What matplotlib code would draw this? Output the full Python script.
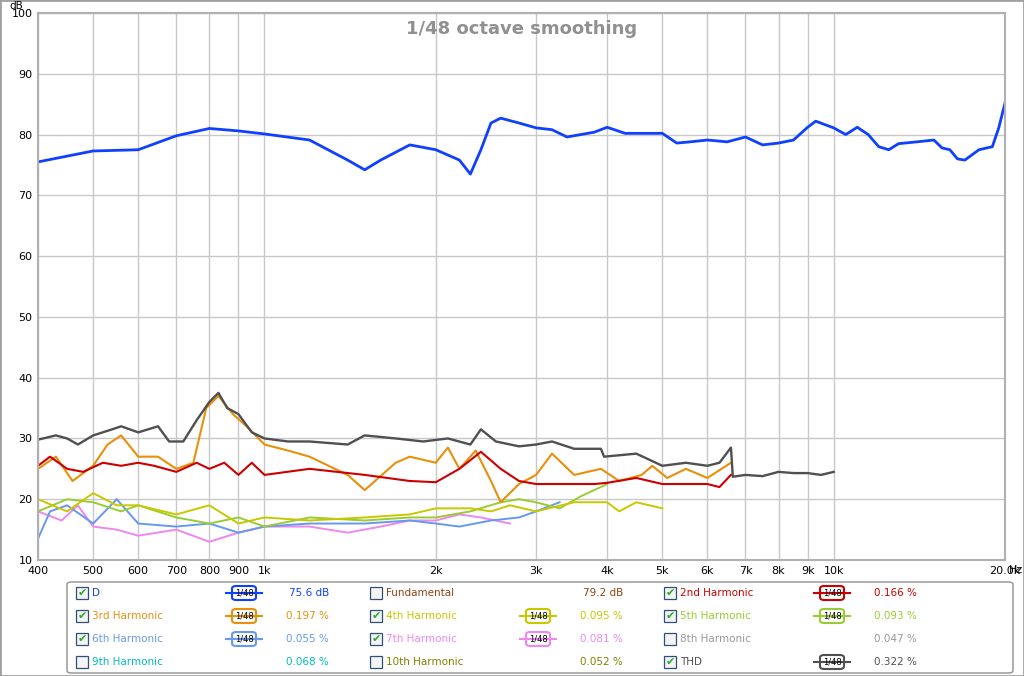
import matplotlib.pyplot as plt
from matplotlib.patches import FancyBboxPatch, Rectangle

# ==========================================
# Data
# ==========================================
d_f = [400, 500, 600, 700, 800, 900, 1000, 1200, 1400, 1500, 1600, 1800, 2000, 2200, 2300, 2400,
       2500, 2600, 2800, 3000, 3200, 3400, 3800, 4000, 4300, 4600, 5000, 5300, 5600, 6000, 6500,
       7000, 7500, 8000, 8500, 9000, 9300, 10000, 10500, 11000, 11500, 12000, 12500, 13000, 14000,
       15000, 15500, 16000, 16500, 17000, 18000, 19000, 19500, 20000]
d_db = [75.5, 77.3, 77.5, 79.8, 81.0, 80.6, 80.1, 79.1, 75.8, 74.2, 75.8, 78.3, 77.5, 75.8, 73.5, 77.5,
        81.9, 82.7, 81.9, 81.1, 80.8, 79.6, 80.4, 81.2, 80.2, 80.2, 80.2, 78.6, 78.8, 79.1, 78.8,
        79.6, 78.3, 78.6, 79.1, 81.2, 82.2, 81.1, 80.0, 81.2, 80.0, 78.0, 77.5, 78.5, 78.8,
        79.1, 77.8, 77.5, 76.0, 75.8, 77.5, 78.0, 81.1, 85.2]

thd_f = [400, 430, 450, 470, 500, 540, 560, 600, 650, 680, 720, 760, 800, 830, 860, 900, 950, 1000,
         1100, 1200, 1400, 1500, 1700, 1900, 2100, 2300, 2400, 2550, 2800, 3000, 3200, 3500, 3900,
         3950, 4500, 5000, 5500, 6000, 6300, 6600, 6650, 7000, 7500, 8000, 8500, 9000, 9500, 10000]
thd_db = [29.8, 30.5, 30.0, 29.0, 30.5, 31.5, 32.0, 31.0, 32.0, 29.5, 29.5, 33.0, 36.0, 37.5, 35.0,
          34.0, 31.0, 30.0, 29.5, 29.5, 29.0, 30.5, 30.0, 29.5, 30.0, 29.0, 31.5, 29.5, 28.7, 29.0,
          29.5, 28.3, 28.3, 27.0, 27.5, 25.5, 26.0, 25.5, 26.0, 28.5, 23.7, 24.0, 23.8, 24.5, 24.3,
          24.3, 24.0, 24.5]

h2_f = [400, 420, 450, 480, 520, 560, 600, 640, 700, 760, 800, 850, 900, 950, 1000, 1200, 1500,
        1800, 2000, 2200, 2400, 2600, 2800, 3000, 3400, 3800, 4000, 4500, 5000, 6000, 6300, 6600]
h2_db = [25.5, 27.0, 25.0, 24.5, 26.0, 25.5, 26.0, 25.5, 24.5, 26.0, 25.0, 26.0, 24.0, 26.0, 24.0,
         25.0, 24.0, 23.0, 22.8, 25.0, 27.8, 25.0, 23.0, 22.5, 22.5, 22.5, 22.7, 23.5, 22.5, 22.5,
         22.0, 24.0]

h3_f = [400, 430, 460, 500, 530, 560, 600, 650, 700, 750, 790, 830, 880, 930, 1000, 1100, 1200,
        1400, 1500, 1700, 1800, 2000, 2100, 2200, 2350, 2500, 2600, 2800, 3000, 3200, 3500, 3900,
        4200, 4600, 4800, 5100, 5500, 6000, 6600]
h3_db = [25.0, 27.0, 23.0, 25.5, 29.0, 30.5, 27.0, 27.0, 25.0, 26.0, 35.0, 37.0, 34.0, 32.0, 29.0,
         28.0, 27.0, 24.0, 21.5, 26.0, 27.0, 26.0, 28.5, 25.0, 28.0, 23.0, 19.5, 22.5, 24.0, 27.5,
         24.0, 25.0, 23.0, 24.0, 25.5, 23.5, 25.0, 23.5, 26.0]

h4_f = [400, 450, 500, 550, 600, 700, 800, 900, 1000, 1200, 1500, 1800, 2000, 2300, 2500, 2700,
        3000, 3500, 4000, 4200, 4500, 5000]
h4_db = [20.0, 18.0, 21.0, 19.0, 19.0, 17.5, 19.0, 16.0, 17.0, 16.5, 17.0, 17.5, 18.5, 18.5, 18.0,
         19.0, 18.0, 19.5, 19.5, 18.0, 19.5, 18.5]

h5_f = [400, 450, 500, 560, 600, 700, 800, 900, 1000, 1200, 1500, 1800, 2000, 2300, 2600, 2800,
        3000, 3300, 3600, 4000]
h5_db = [18.0, 20.0, 19.5, 18.0, 19.0, 17.0, 16.0, 17.0, 15.5, 17.0, 16.5, 17.0, 17.0, 18.0, 19.5,
         20.0, 19.5, 18.5, 20.5, 22.5]

h6_f = [400, 420, 450, 500, 550, 600, 700, 800, 900, 1000, 1200, 1500, 1800, 2000, 2200, 2500,
        2800, 3000, 3300]
h6_db = [13.5, 18.0, 19.0, 16.0, 20.0, 16.0, 15.5, 16.0, 14.5, 15.5, 16.0, 16.0, 16.5, 16.0, 15.5,
         16.5, 17.0, 18.0, 19.5]

h7_f = [400, 440, 470, 500, 550, 600, 700, 800, 900, 1000, 1200, 1400, 1600, 1800, 2000, 2200,
        2400, 2700]
h7_db = [18.0, 16.5, 19.0, 15.5, 15.0, 14.0, 15.0, 13.0, 14.5, 15.5, 15.5, 14.5, 15.5, 16.5, 16.5,
         17.5, 17.0, 16.0]

x_ticks = [400, 500, 600, 700, 800, 900, 1000, 2000, 3000, 4000, 5000, 6000, 7000, 8000, 9000, 10000, 20000]
x_labels = ["400", "500", "600", "700", "800", "900", "1k", "2k", "3k", "4k", "5k", "6k", "7k",
            "8k", "9k", "10k", "20.0k"]
y_ticks = list(range(10, 101, 10))

# legend rows: (name, colour, checked, has icon, value)
legend_rows = [
    [("D", "#1040ff", True, True, "75.6 dB"), ("Fundamental", "#8b4513", False, False, "79.2 dB"),
     ("2nd Harmonic", "#cc0000", True, True, "0.166 %")],
    [("3rd Harmonic", "#e8900a", True, True, "0.197 %"), ("4th Harmonic", "#c8c800", True, True, "0.095 %"),
     ("5th Harmonic", "#99cc33", True, True, "0.093 %")],
    [("6th Harmonic", "#6699ee", True, True, "0.055 %"), ("7th Harmonic", "#ee88ee", True, True, "0.081 %"),
     ("8th Harmonic", "#999999", False, False, "0.047 %")],
    [("9th Harmonic", "#00bbbb", False, False, "0.068 %"), ("10th Harmonic", "#808000", False, False, "0.052 %"),
     ("THD", "#505050", True, True, "0.322 %")],
]

# ==========================================
# Plot
# ==========================================
W, H = 1024, 676
fig = plt.figure(figsize=(W / 100, H / 100), dpi=100)
ax = fig.add_axes([38 / W, (H - 560) / H, 967 / W, 547 / H])

ax.plot(h7_f, h7_db, color="#ee88ee", lw=1.4)
ax.plot(h6_f, h6_db, color="#6699ee", lw=1.4)
ax.plot(h5_f, h5_db, color="#99cc33", lw=1.4)
ax.plot(h4_f, h4_db, color="#c8c800", lw=1.4)
ax.plot(h3_f, h3_db, color="#e8900a", lw=1.5)
ax.plot(h2_f, h2_db, color="#cc0000", lw=1.5)
ax.plot(thd_f, thd_db, color="#505050", lw=1.7)
ax.plot(d_f, d_db, color="#1040ff", lw=2)

ax.set_xscale("log")
ax.set_xlim(400, 20000)
ax.set_ylim(10, 100)
ax.set_xticks(x_ticks)
ax.set_xticklabels(x_labels)
ax.minorticks_off()
ax.set_yticks(y_ticks)
ax.tick_params(labelsize=8, length=0, pad=4)
ax.grid(True, color="#c8c8c8", lw=1)
ax.set_axisbelow(True)
for s in ax.spines.values():
    s.set_color("#b0b0b0")
    s.set_linewidth(1.5)
ax.text(0.5, 0.97, "1/48 octave smoothing", transform=ax.transAxes, ha="center", va="center",
        fontsize=13, fontweight="bold", color="#909090")
fig.text(16 / W, 1 - 6 / H, "dB", fontsize=7.5, ha="center", va="center")
fig.text(1016 / W, 1 - 570 / H, "Hz", fontsize=8, ha="center", va="center")

# Legend panel
fig.patches.append(FancyBboxPatch((67 / W, (H - 673) / H), 946 / W, 91 / H,
                                  boxstyle="round,pad=0,rounding_size=0.004", transform=fig.transFigure,
                                  fill=False, ec="#909090", lw=1))
col_x = [76, 370, 664]
for r, row in enumerate(legend_rows):
    yc = 1 - (593 + 23 * r) / H
    for c, (name, col, checked, icon, val) in enumerate(row):
        x0 = col_x[c]
        fig.patches.append(Rectangle((x0 / W, yc - 6 / H), 12 / W, 12 / H, transform=fig.transFigure,
                                     fc="#f4f4f4", ec="#30507a", lw=0.9))
        if checked:
            fig.text((x0 + 6) / W, yc, "\u2714", color="#22aa22", fontsize=8, ha="center", va="center")
        fig.text((x0 + 16) / W, yc, name, color=col, fontsize=7.5, va="center")
        if icon:
            ix = x0 + 168
            fig.lines.append(plt.Line2D([(ix - 18) / W, (ix + 18) / W], [yc, yc], color=col, lw=1.5,
                                        transform=fig.transFigure))
            fig.patches.append(FancyBboxPatch(((ix - 12) / W, yc - 7 / H), 24 / W, 14 / H,
                                              boxstyle="round,pad=0,rounding_size=0.004",
                                              transform=fig.transFigure, fc="white", ec=col, lw=1.5))
            fig.text(ix / W, yc, "1/48", fontsize=6, ha="center", va="center")
        fig.text((x0 + 253) / W, yc, val, color=col, fontsize=7.5, ha="right", va="center")

# outer border
fig.patches.append(Rectangle((0, 0), 1, 1, transform=fig.transFigure, fill=False, ec="#a0a0a0", lw=2))

fig.savefig("out.png", dpi=100)
